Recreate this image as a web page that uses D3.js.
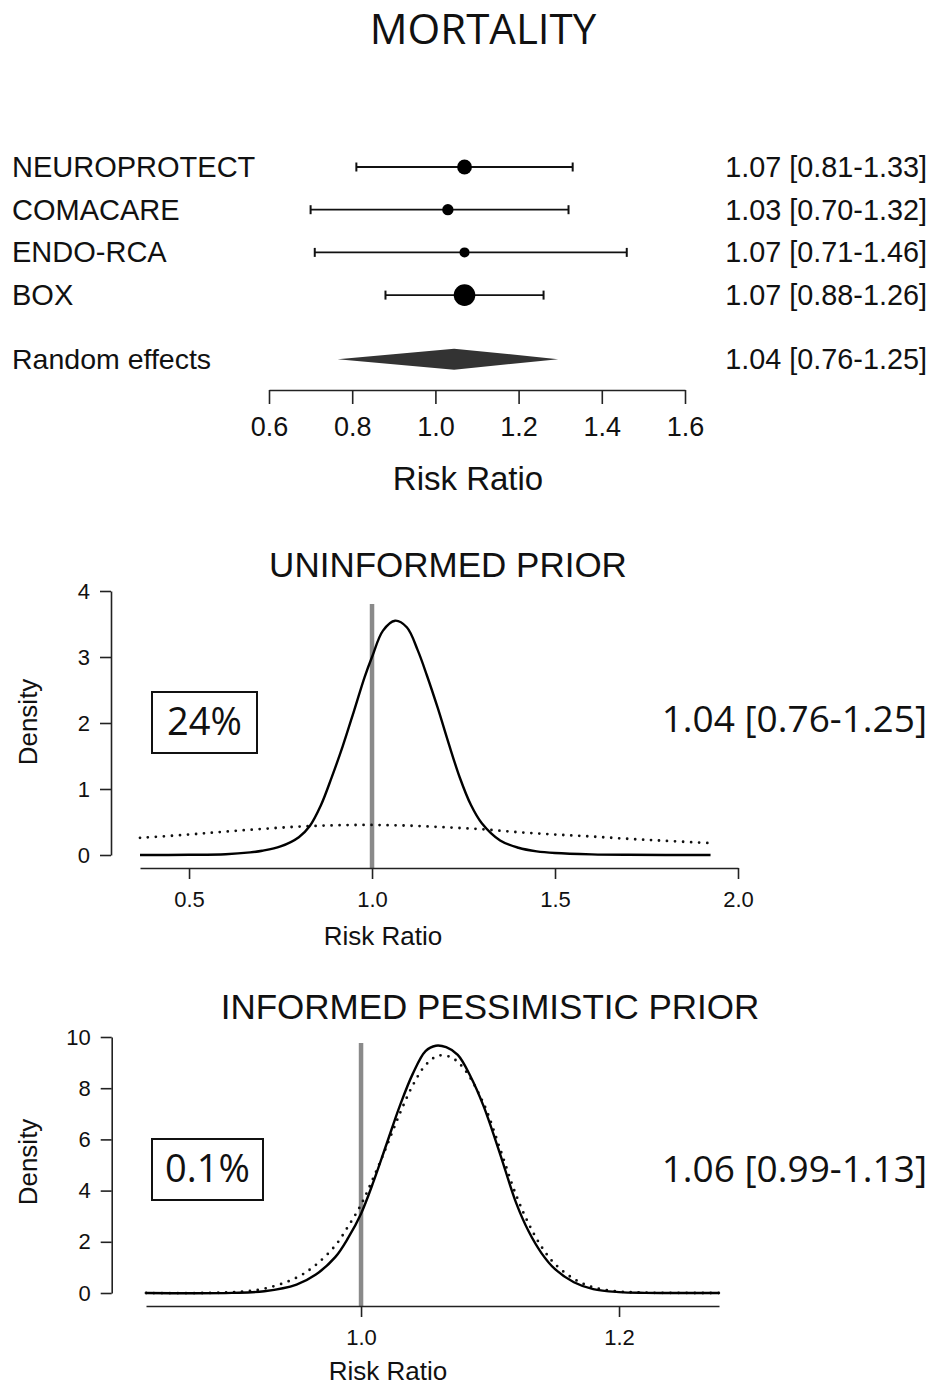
<!DOCTYPE html>
<html>
<head>
<meta charset="utf-8">
<title>Mortality</title>
<style>
  body { margin: 0; background: #fff; }
  svg text { fill: #111; }
</style>
</head>
<body>
<div id="chart"></div>
<script src="https://cdn.jsdelivr.net/npm/d3@7"></script>
<script>
// forest plot data
const studies = ["NEUROPROTECT", "COMACARE", "ENDO-RCA", "BOX"];
const studyEst = [1.07, 1.03, 1.07, 1.07];
const studyLo = [0.81, 0.70, 0.71, 0.88];
const studyHi = [1.33, 1.32, 1.46, 1.26];
const studyWeight = [24, 14, 11, 51];
const studyText = ["1.07 [0.81-1.33]", "1.03 [0.70-1.32]", "1.07 [0.71-1.46]", "1.07 [0.88-1.26]"];
const pooledLabel = "Random effects";
const pooledDiamond = [0.765, 1.045, 1.295];
const pooledText = "1.04 [0.76-1.25]";
const forestTicks = [0.6, 0.8, 1.0, 1.2, 1.4, 1.6];

// uninformed prior panel
const unifPostRR = [0.366, 0.5, 0.6, 0.667, 0.7, 0.75, 0.8, 0.83, 0.86, 0.89, 0.92, 0.95, 0.98, 1.0, 1.03, 1.063, 1.095, 1.125, 1.15, 1.18, 1.21, 1.24, 1.27, 1.3, 1.35, 1.4, 1.45, 1.5, 1.6, 1.7, 1.925];
const unifPost = [0, 0.003, 0.012, 0.04, 0.065, 0.13, 0.27, 0.44, 0.75, 1.18, 1.65, 2.17, 2.7, 3.0, 3.4, 3.55, 3.45, 3.1, 2.72, 2.22, 1.68, 1.17, 0.76, 0.48, 0.22, 0.11, 0.055, 0.03, 0.01, 0.003, 0];
const unifPriorRR = [0.366, 0.5, 0.6, 0.7, 0.8, 0.9, 1.0, 1.1, 1.2, 1.3, 1.4, 1.5, 1.6, 1.7, 1.8, 1.925];
const unifPrior = [0.26, 0.31, 0.355, 0.395, 0.43, 0.45, 0.455, 0.445, 0.42, 0.39, 0.345, 0.31, 0.28, 0.245, 0.215, 0.18];
const unifTicksX = [0.5, 1.0, 1.5, 2.0];
const unifTicksY = [0, 1, 2, 3, 4];
const unifProb = "24%";
const unifText = "1.04 [0.76-1.25]";

// informed pessimistic prior panel
const infPostRR = [0.8333, 0.9, 0.925, 0.95, 0.965, 0.98, 0.99, 1.0, 1.01, 1.02, 1.03, 1.04, 1.05, 1.058, 1.066, 1.075, 1.085, 1.095, 1.108, 1.12, 1.13, 1.14, 1.15, 1.165, 1.18, 1.2, 1.22, 1.2775];
const infPost = [0, 0.005, 0.07, 0.33, 0.72, 1.4, 2.15, 3.1, 4.4, 5.85, 7.3, 8.55, 9.45, 9.66, 9.6, 9.3, 8.45, 7.3, 5.4, 3.55, 2.4, 1.55, 0.95, 0.42, 0.15, 0.035, 0.005, 0];
const infPriorRR = [0.8333, 0.9, 0.925, 0.95, 0.965, 0.98, 0.99, 1.0, 1.01, 1.02, 1.03, 1.04, 1.05, 1.06, 1.07, 1.08, 1.095, 1.108, 1.12, 1.13, 1.14, 1.15, 1.165, 1.18, 1.2, 1.22, 1.2775];
const infPrior = [0, 0.03, 0.17, 0.6, 1.1, 1.85, 2.6, 3.45, 4.55, 5.75, 7.0, 8.1, 8.9, 9.27, 9.2, 8.75, 7.4, 5.6, 3.85, 2.7, 1.8, 1.15, 0.55, 0.22, 0.06, 0.015, 0];
const infTicksX = [1.0, 1.2];
const infTicksY = [0, 2, 4, 6, 8, 10];
const infProb = "0.1%";
const infText = "1.06 [0.99-1.13]";

const arial = "'Liberation Sans', Arial, sans-serif";
const myriad = "'Open Sans', 'Noto Sans', sans-serif";

const svg = d3.select("#chart").append("svg")
    .attr("width", 933)
    .attr("height", 1385);

svg.append("text")
    .attr("x", 483).attr("y", 44)
    .attr("text-anchor", "middle")
    .style("font-family", myriad).style("font-size", "42px")
    .text("MORTALITY");

// ---------- forest plot ----------
const xF = d3.scaleLinear().domain([0.6, 1.6]).range([269, 685]);
const rowY = d3.scaleLinear().domain([0, 1]).range([167, 209.7]);
const rScale = d3.scaleSqrt().domain([0, 51]).range([0, 10.8]);

const forest = svg.append("g");

studies.forEach((s, i) => {
    const y = rowY(i);
    forest.append("text")
        .attr("x", 12).attr("y", y + 10)
        .style("font-family", arial).style("font-size", "29px")
        .text(s);
    forest.append("text")
        .attr("x", 927).attr("y", y + 10)
        .attr("text-anchor", "end")
        .style("font-family", arial).style("font-size", "28.8px")
        .text(studyText[i]);
    forest.append("line")
        .attr("x1", xF(studyLo[i])).attr("x2", xF(studyHi[i]))
        .attr("y1", y).attr("y2", y)
        .attr("stroke", "#111").attr("stroke-width", 1.8);
    [studyLo[i], studyHi[i]].forEach(v => {
        forest.append("line")
            .attr("x1", xF(v)).attr("x2", xF(v))
            .attr("y1", y - 4.5).attr("y2", y + 4.5)
            .attr("stroke", "#111").attr("stroke-width", 2);
    });
    forest.append("circle")
        .attr("cx", xF(studyEst[i])).attr("cy", y)
        .attr("r", rScale(studyWeight[i]))
        .attr("fill", "#000");
});

const yPool = rowY(4.5);
forest.append("text")
    .attr("x", 12).attr("y", yPool + 10)
    .style("font-family", arial).style("font-size", "28.5px")
    .text(pooledLabel);
forest.append("text")
    .attr("x", 927).attr("y", yPool + 10)
    .attr("text-anchor", "end")
    .style("font-family", arial).style("font-size", "28.8px")
    .text(pooledText);
forest.append("path")
    .attr("d", `M${xF(pooledDiamond[0])},${yPool} L${xF(pooledDiamond[1])},${yPool - 10.5} L${xF(pooledDiamond[2])},${yPool} L${xF(pooledDiamond[1])},${yPool + 10.5} Z`)
    .attr("fill", "#333");

const fAxis = forest.append("g")
    .attr("transform", "translate(0, 390)")
    .call(d3.axisBottom(xF).tickValues(forestTicks).tickFormat(d3.format(".1f"))
        .tickSize(14).tickSizeOuter(0).tickPadding(13));
fAxis.selectAll("path, line").attr("stroke", "#222").attr("stroke-width", 1.6);
fAxis.selectAll("text").style("font-family", arial).style("font-size", "27px").attr("fill", "#111");

forest.append("text")
    .attr("x", 468).attr("y", 490)
    .attr("text-anchor", "middle")
    .style("font-family", arial).style("font-size", "33px")
    .text("Risk Ratio");

// ---------- density panels ----------
function densityPanel(opt) {
    const g = svg.append("g");
    const x = d3.scaleLinear().domain(opt.xDomain).range(opt.xRange);
    const y = d3.scaleLinear().domain(opt.yDomain).range(opt.yRange);

    g.append("text")
        .attr("x", opt.titleX).attr("y", opt.titleY)
        .attr("text-anchor", "middle")
        .style("font-family", arial).style("font-size", "35px")
        .text(opt.title);

    // reference line at RR = 1
    g.append("line")
        .attr("x1", x(1)).attr("x2", x(1))
        .attr("y1", opt.refTop).attr("y2", opt.axisY)
        .attr("stroke", "#8a8a8a").attr("stroke-width", 4.5);

    const line = d3.line()
        .x(d => x(d[0]))
        .y(d => y(Math.max(0, d[1])))
        .curve(d3.curveCatmullRom.alpha(0.5));

    g.append("path")
        .datum(d3.zip(opt.priorRR, opt.prior))
        .attr("d", line)
        .attr("fill", "none")
        .attr("stroke", "#111")
        .attr("stroke-width", 2.8)
        .attr("stroke-linecap", "round")
        .attr("stroke-dasharray", "0,8");

    g.append("path")
        .datum(d3.zip(opt.postRR, opt.post))
        .attr("d", line)
        .attr("fill", "none")
        .attr("stroke", "#000")
        .attr("stroke-width", 2.4);

    const xa = g.append("g")
        .attr("transform", `translate(0, ${opt.axisY})`)
        .call(d3.axisBottom(x).tickValues(opt.ticksX).tickFormat(d3.format(".1f"))
            .tickSize(11).tickSizeOuter(0).tickPadding(12));
    const ya = g.append("g")
        .attr("transform", `translate(${opt.yAxisX}, 0)`)
        .call(d3.axisLeft(y).tickValues(opt.ticksY).tickFormat(d3.format("d"))
            .tickSize(11).tickSizeOuter(0).tickPadding(10));
    [xa, ya].forEach(a => {
        a.selectAll("path, line").attr("stroke", "#222").attr("stroke-width", 1.6);
        a.selectAll("text").style("font-family", arial).style("font-size", "22px").attr("fill", "#111");
    });

    g.append("text")
        .attr("transform", `translate(37, ${opt.ylabY}) rotate(-90)`)
        .attr("text-anchor", "middle")
        .style("font-family", arial).style("font-size", "26px")
        .text("Density");

    g.append("text")
        .attr("x", opt.xlabX).attr("y", opt.xlabY)
        .attr("text-anchor", "middle")
        .style("font-family", arial).style("font-size", "26px")
        .text("Risk Ratio");

    g.append("rect")
        .attr("x", 152).attr("y", opt.box[0])
        .attr("width", opt.box[1]).attr("height", 61)
        .attr("fill", "none").attr("stroke", "#111").attr("stroke-width", 2);
    g.append("text")
        .attr("x", 152 + opt.box[1] / 2).attr("y", opt.box[0] + 43)
        .attr("text-anchor", "middle")
        .style("font-family", myriad).style("font-size", "38px")
        .text(opt.prob);

    g.append("text")
        .attr("x", 927).attr("y", opt.textY)
        .attr("text-anchor", "end")
        .style("font-family", myriad).style("font-size", "37px")
        .text(opt.text);
}

densityPanel({
    title: "UNINFORMED PRIOR", titleX: 448, titleY: 577,
    xDomain: [0.366, 2.0], xRange: [140, 738],
    yDomain: [0, 4], yRange: [855, 591],
    axisY: 868, yAxisX: 111, refTop: 604,
    postRR: unifPostRR, post: unifPost,
    priorRR: unifPriorRR, prior: unifPrior,
    ticksX: unifTicksX, ticksY: unifTicksY,
    ylabY: 722, xlabX: 383, xlabY: 945,
    box: [692, 105], prob: unifProb,
    textY: 732, text: unifText
});

densityPanel({
    title: "INFORMED PESSIMISTIC PRIOR", titleX: 490, titleY: 1019,
    xDomain: [0.8333, 1.2775], xRange: [146, 719],
    yDomain: [0, 10], yRange: [1293, 1037],
    axisY: 1306, yAxisX: 111.7, refTop: 1043,
    postRR: infPostRR, post: infPost,
    priorRR: infPriorRR, prior: infPrior,
    ticksX: infTicksX, ticksY: infTicksY,
    ylabY: 1162, xlabX: 388, xlabY: 1380,
    box: [1139, 111], prob: infProb,
    textY: 1182, text: infText
});
</script>
</body>
</html>
